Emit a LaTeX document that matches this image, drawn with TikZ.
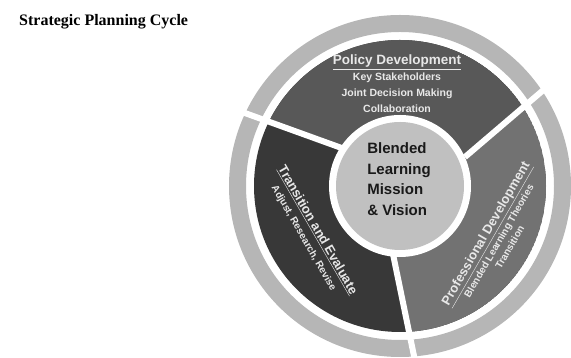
\documentclass[tikz,border=0pt]{standalone}
\usepackage{fontspec}
\setmainfont{Liberation Sans}
\newfontfamily\titlefont{Liberation Serif}
\usetikzlibrary{calc}

\definecolor{ringgray}{RGB}{182,182,182}
\definecolor{policygray}{RGB}{88,88,88}
\definecolor{transgray}{RGB}{56,56,56}
\definecolor{profgray}{RGB}{114,114,114}
\definecolor{coregray}{RGB}{192,192,192}
\definecolor{labelgray}{RGB}{232,232,232}

\begin{document}
\begin{tikzpicture}[
    x=1pt, y=1pt,
    sep/.style     = {draw=white, line width=6pt},
    seglabel/.style = {font=\fontsize{10.5}{16}\selectfont\bfseries,
                       text=labelgray, align=center, inner sep=0pt},
    corelabel/.style = {font=\fontsize{15}{20.5}\selectfont\bfseries,
                        text=black!90, align=left, inner sep=0pt},
    heading/.style = {font=\titlefont\fontsize{16}{18}\selectfont\bfseries,
                      anchor=west, inner sep=0pt}
]
\useasboundingbox (0,0) rectangle (571,358);

% ========= heading =========
\node[heading] (heading) at (19,336) {Strategic Planning Cycle};

\begin{scope}[shift={(400,172)}]
% ========= outer ring =========
\fill[ringgray, even odd rule] (0,0) circle (171) (0,0) circle (154);

% ========= separator end points =========
\coordinate (ar) at (24:71);   \coordinate (br) at (34:178);
\coordinate (al) at (147:70);  \coordinate (bl) at (155:178);
\coordinate (ab) at (-96:68);  \coordinate (bb) at (-85:178);

% ========= segments =========
\begin{scope}
  \clip (0,0) circle (146);
  \fill[transgray] (0,0) circle (146);
  \fill[policygray] (0,0) -- (ar) -- ($(ar)!3!(br)$) -- (90:500)
        -- ($(al)!3!(bl)$) -- (al) -- cycle;
  \fill[profgray] (0,0) -- (ab) -- ($(ab)!3!(bb)$) -- (-30:500)
        -- ($(ar)!3!(br)$) -- (ar) -- cycle;
\end{scope}

\draw[sep] (ar) -- (br);
\draw[sep] (al) -- (bl);
\draw[sep] (ab) -- (bb);

% ========= core =========
\fill[white] (0,0) circle (71);
\fill[coregray] (0,0) circle (64);
\end{scope}

% ========= labels =========
\node[corelabel] (core) at (399,179)
    {Blended\\Learning\\Mission\\\& Vision};
\node[seglabel] (policy) at (397,274)
    {{\fontsize{13.5}{16}\selectfont\underline{Policy Development}}\\
     Key Stakeholders\\Joint Decision Making\\Collaboration};
\node[seglabel, rotate=-60, font=\fontsize{10}{13}\selectfont\bfseries] (trans) at (311,124)
    {{\fontsize{13}{13}\selectfont\underline{Transition and Evaluate}}\\[2pt]
     Adjust, Research, Revise};
\node[seglabel, rotate=60, font=\fontsize{10}{12.5}\selectfont\bfseries] (prof) at (497,118)
    {{\fontsize{13}{13}\selectfont\underline{Professional Development}}\\[2pt]
     Blended Learning Theories\\Transition};

\end{tikzpicture}
\end{document}
